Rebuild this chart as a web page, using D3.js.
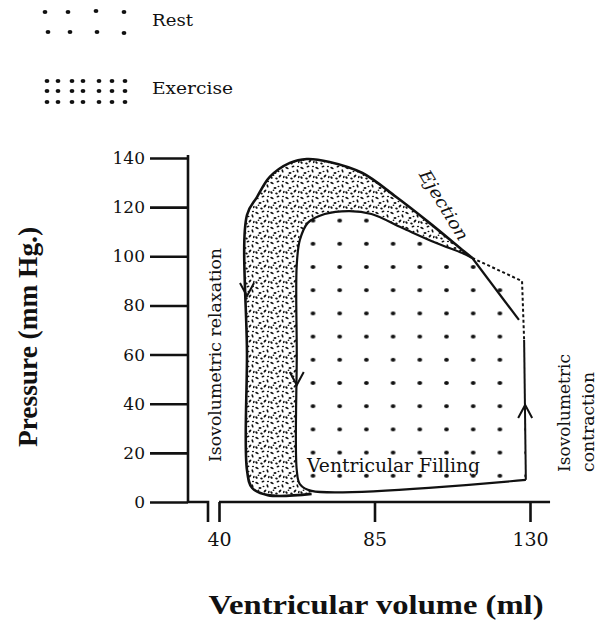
<!DOCTYPE html>
<html><head><meta charset="utf-8">
<script src="https://cdn.jsdelivr.net/npm/d3@7"></script>
<style>
  body { margin: 0; background: #fff; }
  svg { display: block; }
  text { fill: #111; }
</style>
</head><body>
<svg id="chart" width="597" height="624"></svg>
<script>
// Left-ventricular pressure–volume loops at rest and during exercise.
// Volumes in ml, pressures in mm Hg.
const volumeTicks = [40, 85, 130];
const pressureTicks = [0, 20, 40, 60, 80, 100, 120, 140];

// Exercise loop, outer edge: bottom, end-systolic side, top and ejection limb
const exerciseOuter = [
  [66.8, 3.3], [54.1, 2.8], [49.6, 5.7], [48.1, 13], [48.1, 60], [48.1, 116.8],
  [51.0, 124.1], [54.7, 132.3], [60.5, 138.0], [65.4, 139.6], [72.0, 138.4],
  [81.5, 133.9], [91.3, 124.1], [100.9, 113.6], [110.4, 102.6], [113.3, 99.3]
];
// Ejection limb carried on past the crossing point
const exerciseTail = [[113.3, 99.3], [126.8, 74.1]];

// Rest loop: filling limb, end-systolic side and top up to the crossing point
const restLoop = [
  [128.8, 9.0], [66.8, 4.5], [63.4, 7.3], [62.5, 13], [62.5, 60], [62.5, 96.5],
  [63.4, 106.6], [65.7, 113.6], [70.6, 117.2], [77.8, 118.4], [84.1, 117.2],
  [93.1, 111.5], [102.9, 105.4], [110.4, 101.3], [113.3, 99.3]
];
// Rest loop, upper right corner (dashed) and isovolumetric contraction side
const restUpperRight = [[113.3, 99.3], [127.7, 89.9], [128.3, 65.9]];
const restRightSide = [[128.3, 65.9], [128.8, 9.0]];

// Direction arrows: [volume, pressure, direction]
const arrows = [[48.1, 83.8, 'down'], [62.5, 47.6, 'down'], [128.6, 39.5, 'up']];

const svg = d3.select('#chart');
const ink = '#111';

const x = d3.scaleLinear().domain([40, 130]).range([219, 530]);
const y = d3.scaleLinear().domain([0, 140]).range([502, 158]);
const axisX = 188;

const line = d3.line().x(d => x(d[0])).y(d => y(d[1])).curve(d3.curveCatmullRom.alpha(0.5));
const straight = d3.line().x(d => x(d[0])).y(d => y(d[1]));

// ---- fill patterns ----
const defs = svg.append('defs');
const restPat = defs.append('pattern').attr('id', 'restDots')
  .attr('patternUnits', 'userSpaceOnUse')
  .attr('x', 313 - 13.35).attr('y', 267 - 11.6)
  .attr('width', 26.7).attr('height', 23.2);
restPat.append('ellipse').attr('cx', 13.35).attr('cy', 11.6)
  .attr('rx', 2.4).attr('ry', 1.9).attr('fill', ink);

// irregular specks for the stippled band
const specks = [
  [2, 3, 1.8, 1.0, 30], [8, 1.5, 1.5, 0.9, -20], [12.5, 6, 1.8, 0.9, 70],
  [5, 8, 1.5, 1.1, 0], [10, 11, 1.8, 0.9, -45], [1.5, 12.5, 1.4, 1.0, 60],
  [6.5, 13.5, 1.3, 0.9, 10], [13, 1.5, 1.1, 0.8, 0], [8.5, 6.5, 1.0, 0.8, 0],
  [3.5, 10.2, 0.9, 0.7, 0], [13.8, 12, 1.2, 0.8, -70]
];
const exPat = defs.append('pattern').attr('id', 'exSpecks')
  .attr('patternUnits', 'userSpaceOnUse').attr('width', 15).attr('height', 15);
exPat.selectAll('ellipse').data(specks).join('ellipse')
  .attr('cx', d => d[0]).attr('cy', d => d[1]).attr('rx', d => d[2]).attr('ry', d => d[3])
  .attr('transform', d => `rotate(${d[4]},${d[0]},${d[1]})`)
  .attr('fill', ink);

// ---- filled regions ----
const restFill = line(restLoop) + straight(restUpperRight.slice(1)).replace(/^M/, 'L')
  + straight(restRightSide.slice(1)).replace(/^M/, 'L') + 'Z';
svg.append('path').attr('d', restFill).attr('fill', 'url(#restDots)');

const exFill = line(exerciseOuter) + line(restLoop.slice(1).reverse()).replace(/^M/, 'L') + 'Z';
svg.append('path').attr('d', exFill).attr('fill', 'url(#exSpecks)');

// ---- loop outlines ----
svg.append('path').attr('d', line(exerciseOuter)).attr('fill', 'none')
  .attr('stroke', ink).attr('stroke-width', 2.6).attr('stroke-linejoin', 'round');
svg.append('path').attr('d', straight(exerciseTail)).attr('fill', 'none')
  .attr('stroke', ink).attr('stroke-width', 2.2);
svg.append('path').attr('d', line(restLoop)).attr('fill', 'none')
  .attr('stroke', ink).attr('stroke-width', 2.2).attr('stroke-linejoin', 'round');
svg.append('path').attr('d', straight(restUpperRight)).attr('fill', 'none')
  .attr('stroke', ink).attr('stroke-width', 2).attr('stroke-dasharray', '3,2.5');
svg.append('path').attr('d', straight(restRightSide)).attr('fill', 'none')
  .attr('stroke', ink).attr('stroke-width', 2);

// ---- arrows ----
svg.selectAll('path.arrow').data(arrows).join('path').attr('class', 'arrow')
  .attr('d', d => {
    const px = x(d[0]), py = y(d[1]), s = d[2] === 'down' ? -1 : 1;
    return `M${px - 7},${py + s * 13}L${px},${py}L${px + 7},${py + s * 13}`;
  })
  .attr('fill', 'none').attr('stroke', ink).attr('stroke-width', 2);

// ---- axes ----
const gy = svg.append('g').attr('transform', `translate(${axisX},0)`)
  .call(d3.axisLeft(y).tickValues(pressureTicks).tickSize(38).tickSizeOuter(0).tickPadding(5));
gy.select('.domain').remove();
gy.selectAll('.tick line').attr('stroke', ink).attr('stroke-width', 2.6);
gy.selectAll('.tick text').attr('font-family', 'DejaVu Serif').attr('font-size', 17).attr('fill', ink);
svg.append('line').attr('x1', axisX).attr('x2', axisX).attr('y1', y(140) - 3).attr('y2', y(0))
  .attr('stroke', ink).attr('stroke-width', 2.6);

const gx = svg.append('g').attr('transform', `translate(0,${y(0)})`)
  .call(d3.axisBottom(x).tickValues(volumeTicks).tickSize(20).tickSizeOuter(0).tickPadding(11));
gx.select('.domain').remove();
gx.selectAll('.tick line').attr('stroke', ink).attr('stroke-width', 2.6);
gx.selectAll('.tick text').attr('font-family', 'DejaVu Serif').attr('font-size', 19).attr('fill', ink);
svg.append('line').attr('x1', x(40)).attr('x2', x(135.8)).attr('y1', y(0)).attr('y2', y(0))
  .attr('stroke', ink).attr('stroke-width', 2.6);
// axis break between the pressure axis and the volume scale
svg.append('path').attr('d', `M${axisX},${y(0)}H${x(40) - 11}V${y(0) + 20}`)
  .attr('fill', 'none').attr('stroke', ink).attr('stroke-width', 2.6);

// ---- axis titles ----
svg.append('text').attr('transform', 'translate(37,337) rotate(-90)')
  .attr('text-anchor', 'middle').attr('font-family', 'Liberation Serif').attr('font-weight', 'bold')
  .attr('font-size', 27).attr('textLength', 220).attr('lengthAdjust', 'spacingAndGlyphs')
  .text('Pressure (mm Hg.)');
svg.append('text').attr('x', 376).attr('y', 614)
  .attr('text-anchor', 'middle').attr('font-family', 'Liberation Serif').attr('font-weight', 'bold')
  .attr('font-size', 28).attr('textLength', 335).attr('lengthAdjust', 'spacingAndGlyphs')
  .text('Ventricular volume (ml)');

// ---- phase labels ----
const serif = 'DejaVu Serif';
svg.append('text').attr('transform', 'translate(221,355) rotate(-90)')
  .attr('text-anchor', 'middle').attr('font-family', serif).attr('font-size', 17)
  .attr('textLength', 214).attr('lengthAdjust', 'spacingAndGlyphs')
  .text('Isovolumetric relaxation');
svg.append('text').attr('transform', 'translate(570,472) rotate(-90)')
  .attr('font-family', serif).attr('font-size', 17)
  .attr('textLength', 118).attr('lengthAdjust', 'spacingAndGlyphs')
  .text('Isovolumetric');
svg.append('text').attr('transform', 'translate(594,472) rotate(-90)')
  .attr('font-family', serif).attr('font-size', 17)
  .attr('textLength', 100).attr('lengthAdjust', 'spacingAndGlyphs')
  .text('contraction');
svg.append('text').attr('x', 307).attr('y', 472)
  .attr('font-family', serif).attr('font-size', 18.5)
  .attr('textLength', 173).attr('lengthAdjust', 'spacingAndGlyphs')
  .text('Ventricular Filling');
svg.append('text').attr('transform', 'translate(444,205) rotate(59)')
  .attr('text-anchor', 'middle').attr('dy', '0.35em')
  .attr('font-family', serif).attr('font-style', 'italic').attr('font-size', 17)
  .attr('textLength', 79).attr('lengthAdjust', 'spacingAndGlyphs')
  .text('Ejection');

// ---- legend ----
const restSwatch = [[45, 12], [68, 12], [96, 11], [124, 12], [48, 32], [70, 32], [97, 32], [124, 33]];
const exCols = [47, 58, 72, 83, 99, 112, 125];
const exRows = [81, 91, 102];
const exSwatch = exRows.flatMap(r => exCols.map(c => [c, r]));
const legend = svg.append('g');
legend.selectAll('ellipse.r').data(restSwatch).join('ellipse').attr('class', 'r')
  .attr('cx', d => d[0]).attr('cy', d => d[1]).attr('rx', 2.4).attr('ry', 1.9).attr('fill', ink);
legend.selectAll('ellipse.e').data(exSwatch).join('ellipse').attr('class', 'e')
  .attr('cx', d => d[0]).attr('cy', d => d[1]).attr('rx', 2.4).attr('ry', 2.1).attr('fill', ink);
legend.append('text').attr('x', 152).attr('y', 26).attr('font-family', serif).attr('font-size', 17)
  .attr('textLength', 41).attr('lengthAdjust', 'spacingAndGlyphs').text('Rest');
legend.append('text').attr('x', 152).attr('y', 94).attr('font-family', serif).attr('font-size', 17)
  .attr('textLength', 81).attr('lengthAdjust', 'spacingAndGlyphs').text('Exercise');
</script>
</body></html>
